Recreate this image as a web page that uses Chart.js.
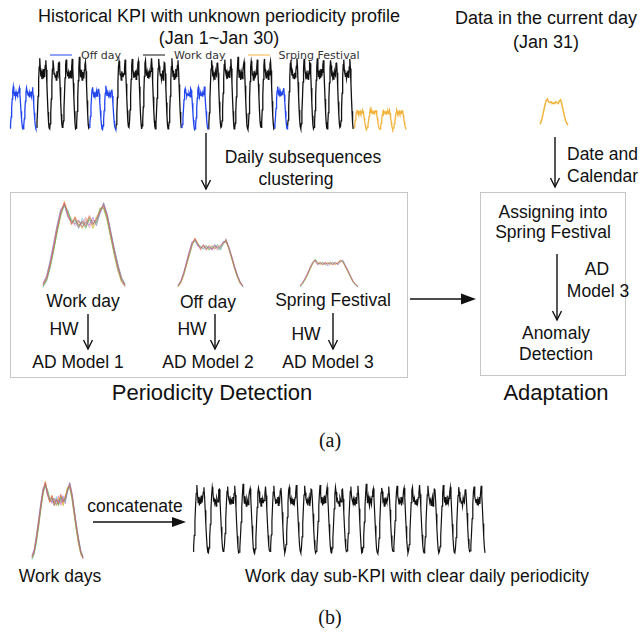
<!DOCTYPE html>
<html>
<head>
<meta charset="utf-8">
<script src="https://cdn.jsdelivr.net/npm/chart.js@4.4.1/dist/chart.umd.min.js"></script>
<style>
  html, body { margin: 0; padding: 0; background: #fff; }
  #fig { position: relative; width: 643px; height: 633px; overflow: hidden;
         font-family: "Liberation Sans", Arial, Helvetica, sans-serif; color: #111; }
  .t { position: absolute; white-space: nowrap; line-height: 1; font-size: 17.5px;
       transform: translate(-50%, -50%); }
  .t.left { transform: translate(0, -50%); }
  .t.big { font-size: 22px; }
  .t.serif { font-family: "Liberation Serif", "Times New Roman", serif; font-size: 20px; }
  .t.title { font-size: 18px; }
  .box { position: absolute; border: 1.5px solid #c6c6c6; box-sizing: border-box; }
  .cv { position: absolute; }
  #arrows { position: absolute; left: 0; top: 0; }
  #legend { position: absolute; left: 50px; top: 55px; transform: translate(0, -50%);
            display: flex; align-items: center; font-family: "DejaVu Sans", sans-serif;
            font-size: 11px; color: #333; line-height: 1; }
  #legend .item { display: flex; align-items: center; margin-right: 22px; }
  #legend .swatch { width: 22px; height: 0; border-top-style: solid; margin-right: 9px; }
</style>
</head>
<body>
<div id="fig">
  <!-- (a) headings -->
  <div class="t title" style="left:219px;top:16px">Historical KPI with unknown periodicity profile</div>
  <div class="t title" style="left:219px;top:38px">(Jan 1~Jan 30)</div>
  <div class="t title" style="left:546px;top:18px">Data in the current day</div>
  <div class="t title" style="left:546px;top:42px">(Jan 31)</div>
  <div id="legend"></div>

  <div class="t" style="left:303px;top:158px">Daily subsequences</div>
  <div class="t" style="left:296px;top:180px">clustering</div>
  <div class="t left" style="left:567px;top:155px">Date and</div>
  <div class="t left" style="left:567px;top:177px">Calendar</div>

  <!-- periodicity detection panel -->
  <div class="box" style="left:10px;top:192px;width:398px;height:186px"></div>
  <div class="t" style="left:83px;top:302px">Work day</div>
  <div class="t" style="left:208px;top:303px">Off day</div>
  <div class="t" style="left:333px;top:301px">Spring Festival</div>
  <div class="t" style="left:64px;top:330px">HW</div>
  <div class="t" style="left:192px;top:330px">HW</div>
  <div class="t" style="left:306px;top:335px">HW</div>
  <div class="t" style="left:78px;top:363px">AD Model 1</div>
  <div class="t" style="left:208px;top:363px">AD Model 2</div>
  <div class="t" style="left:328px;top:363px">AD Model 3</div>
  <div class="t big" style="left:212px;top:393px">Periodicity Detection</div>

  <!-- adaptation panel -->
  <div class="box" style="left:480px;top:192px;width:146px;height:184px"></div>
  <div class="t" style="left:553px;top:213px">Assigning into</div>
  <div class="t" style="left:553px;top:233px">Spring Festival</div>
  <div class="t" style="left:597px;top:270px">AD</div>
  <div class="t" style="left:598px;top:292px">Model 3</div>
  <div class="t" style="left:556px;top:334px">Anomaly</div>
  <div class="t" style="left:556px;top:355px">Detection</div>
  <div class="t big" style="left:556px;top:393px">Adaptation</div>

  <div class="t serif" style="left:330px;top:440px">(a)</div>

  <!-- (b) -->
  <div class="t" style="left:135px;top:507px">concatenate</div>
  <div class="t" style="left:60px;top:577px">Work days</div>
  <div class="t" style="left:417px;top:577px">Work day sub-KPI with clear daily periodicity</div>
  <div class="t serif" style="left:330px;top:617px">(b)</div>

  <svg id="arrows" width="643" height="633" xmlns="http://www.w3.org/2000/svg">
    <g stroke="#111" stroke-width="1.4" fill="none">
      <!-- downward arrows with open heads -->
      <line x1="206" y1="133" x2="206" y2="189"/><polyline points="201.5,180 206,189 210.5,180"/>
      <line x1="555" y1="137" x2="555" y2="187"/><polyline points="550.5,178 555,187 559.5,178"/>
      <line x1="88" y1="314" x2="88" y2="349"/><polyline points="83.5,340 88,349 92.5,340"/>
      <line x1="215" y1="314" x2="215" y2="349"/><polyline points="210.5,340 215,349 219.5,340"/>
      <line x1="333" y1="313" x2="333" y2="349"/><polyline points="328.5,340 333,349 337.5,340"/>
      <line x1="557" y1="254" x2="557" y2="320"/><polyline points="552.5,311 557,320 561.5,311"/>
      <!-- horizontal arrows with filled heads -->
      <line x1="410" y1="299" x2="463" y2="299"/>
      <line x1="93" y1="522" x2="174" y2="522"/>
    </g>
    <g fill="#111" stroke="none">
      <polygon points="476,299 461,293.5 461,304.5"/>
      <polygon points="186,522 172,517 172,527"/>
    </g>
  </svg>
</div>

<script>
// Day types for Jan 1 .. Jan 30
const dayTypes = ['off','off','work','work','work','work','off','off','work','work',
                  'work','work','work','off','off','work','work','work','work','work',
                  'off','work','work','work','work','work','festival','festival','festival','festival'];

const seriesNames = { off: 'Off day', work: 'Work day', festival: 'Srping Festival' };

// Hourly KPI profiles (24 samples per day) for each kind of day
const workDays = [
  [5, 12, 28, 48, 70, 88, 100, 86, 75, 83, 71, 79, 73, 85, 75, 81, 90, 97, 84, 64, 44, 26, 12, 4],
  [3, 10, 25, 44, 66, 85, 97, 90, 78, 80, 74, 77, 70, 82, 78, 76, 93, 94, 80, 60, 40, 23, 10, 5],
  [6, 14, 31, 52, 73, 91, 98, 84, 79, 75, 80, 72, 78, 74, 83, 73, 88, 99, 86, 66, 45, 27, 11, 3],
  [4, 11, 27, 47, 69, 87, 102, 88, 74, 84, 76, 70, 81, 77, 72, 84, 91, 95, 82, 62, 42, 24, 9, 4],
  [2, 9, 24, 46, 68, 89, 96, 91, 77, 79, 70, 82, 75, 80, 76, 78, 87, 98, 85, 65, 46, 28, 13, 6],
  [5, 13, 29, 49, 71, 90, 99, 85, 80, 73, 78, 75, 83, 71, 80, 77, 92, 96, 83, 61, 41, 22, 10, 3],
  [7, 15, 33, 54, 75, 93, 97, 83, 76, 81, 73, 78, 72, 80, 74, 82, 89, 100, 87, 67, 47, 29, 14, 6],
  [3, 10, 26, 45, 67, 86, 99, 89, 81, 76, 79, 71, 77, 83, 70, 79, 94, 93, 79, 59, 39, 21, 8, 3]
];
const offDays = [
  [4, 9, 19, 31, 44, 55, 61, 54, 49, 54, 47, 53, 48, 52, 50, 53, 56, 59, 50, 39, 27, 16, 8, 3],
  [3, 8, 17, 29, 41, 53, 59, 55, 51, 49, 53, 47, 52, 49, 54, 48, 54, 60, 49, 37, 25, 15, 7, 4],
  [5, 10, 20, 33, 46, 57, 60, 52, 50, 52, 49, 51, 47, 54, 48, 51, 57, 58, 51, 40, 28, 17, 9, 3],
  [2, 7, 16, 28, 40, 52, 62, 56, 48, 53, 50, 48, 53, 50, 47, 52, 55, 57, 48, 36, 24, 14, 6, 4],
  [4, 9, 18, 30, 43, 55, 58, 53, 52, 48, 51, 50, 49, 53, 51, 47, 58, 56, 50, 38, 26, 15, 7, 2],
  [3, 8, 18, 31, 45, 56, 60, 55, 47, 51, 52, 49, 50, 48, 52, 50, 54, 61, 49, 38, 27, 16, 8, 3]
];
const festivalDays = [
  [3, 6, 10, 15, 21, 26, 29, 25, 27, 24, 26, 25, 27, 24, 26, 25, 29, 27, 23, 18, 13, 8, 5, 2],
  [2, 5, 9, 14, 20, 25, 30, 26, 25, 27, 24, 26, 25, 27, 25, 26, 28, 28, 22, 17, 12, 7, 4, 3],
  [3, 6, 11, 16, 22, 27, 28, 24, 26, 25, 27, 23, 26, 25, 27, 24, 27, 29, 24, 19, 13, 8, 4, 2],
  [4, 6, 10, 14, 20, 25, 29, 27, 24, 26, 25, 27, 24, 26, 24, 27, 28, 27, 22, 17, 12, 7, 5, 2]
];
// Jan 31, the day being checked
const currentDay = [3, 6, 11, 17, 23, 28, 30, 27, 26, 27, 25, 26, 25, 27, 26, 25, 28, 29, 24, 18, 12, 7, 4, 2];

const seriesColors = { off: '#2146ee', work: '#111111', festival: '#f3b43e' };
const clusterColors = ['#d9534f', '#5cb85c', '#9b6fd1', '#f0ad4e', '#5bc0de', '#e377c2', '#8c8c8c', '#bcbd22'];

// ---- assemble the 30-day history from the calendar ----
const profilesByType = { off: offDays, work: workDays, festival: festivalDays };
const perDay = 24;
const used = { off: 0, work: 0, festival: 0 };
const dayValues = dayTypes.map(t => {
  const list = profilesByType[t];
  return list[used[t]++ % list.length];
});
const history = [].concat(...dayValues);
const historyLabels = history.map((_, i) => i);
const historyByType = {};
Object.keys(seriesNames).forEach(t => { historyByType[t] = history.map(() => null); });
dayTypes.forEach((t, d) => {
  const s = d * perDay;
  for (let i = 0; i < perDay; i++) historyByType[t][s + i] = history[s + i];
  // join to the first sample of the next day
  if (d + 1 < dayTypes.length) historyByType[t][s + perDay] = history[s + perDay];
});

// work-day subsequences concatenated in calendar order
const workSequence = [].concat(...dayValues.filter((_, d) => dayTypes[d] === 'work'));

// ---- charts ----
const fig = document.getElementById('fig');

function plot(x, y, w, h, labels, datasets, yMax) {
  const pad = 2;
  const c = document.createElement('canvas');
  c.width = w + 2 * pad; c.height = h + 2 * pad;
  c.className = 'cv';
  c.style.left = (x - pad) + 'px'; c.style.top = (y - pad) + 'px';
  fig.appendChild(c);
  return new Chart(c, {
    type: 'line',
    data: { labels, datasets },
    options: {
      responsive: false, animation: false, devicePixelRatio: 1, events: [],
      layout: { padding: pad },
      plugins: { legend: { display: false }, tooltip: { enabled: false } },
      scales: { x: { display: false }, y: { display: false, min: 0, max: yMax } },
      elements: { point: { radius: 0 }, line: { tension: 0 } }
    }
  });
}

function line(label, data, color, width) {
  return { label, data, borderColor: color, backgroundColor: color, borderWidth: width,
           fill: false, spanGaps: false, clip: 3 };
}

function overlay(list) {
  return list.map((d, i) => line('day ' + (i + 1), d, clusterColors[i % clusterColors.length] + 'b0', 0.9));
}
const hourLabels = workDays[0].map((_, i) => i);

// history KPI, Jan 1 - Jan 30
const historyChart = plot(10, 56, 396, 75, historyLabels,
  ['off', 'work', 'festival'].map(t => line(seriesNames[t], historyByType[t], seriesColors[t], 1.3)), 103);

// current day
plot(540, 98, 28, 29, hourLabels, [line('Jan 31', currentDay, seriesColors.festival, 1.5)], 31);

// clusters
plot(43, 200, 82, 89, hourLabels, overlay(workDays), 103);
plot(178, 237, 65, 52, hourLabels, overlay(offDays), 63);
plot(300, 258, 58, 31, hourLabels, overlay(festivalDays), 31);

// (b) work days and their concatenation
plot(32, 480, 51, 81, hourLabels, overlay(workDays), 103);
plot(193, 483, 292, 72, workSequence.map((_, i) => i), [line('Work day sub-KPI', workSequence, '#111111', 1.2)], 103);

// legend for the history chart, built from its datasets
const legendEl = document.getElementById('legend');
historyChart.data.datasets.forEach(ds => {
  const item = document.createElement('div');
  item.className = 'item';
  const sw = document.createElement('span');
  sw.className = 'swatch';
  sw.style.borderTopColor = ds.borderColor;
  sw.style.borderTopWidth = '1.5px';
  const tx = document.createElement('span');
  tx.textContent = ds.label;
  item.appendChild(sw); item.appendChild(tx);
  legendEl.appendChild(item);
});
</script>
</body>
</html>
